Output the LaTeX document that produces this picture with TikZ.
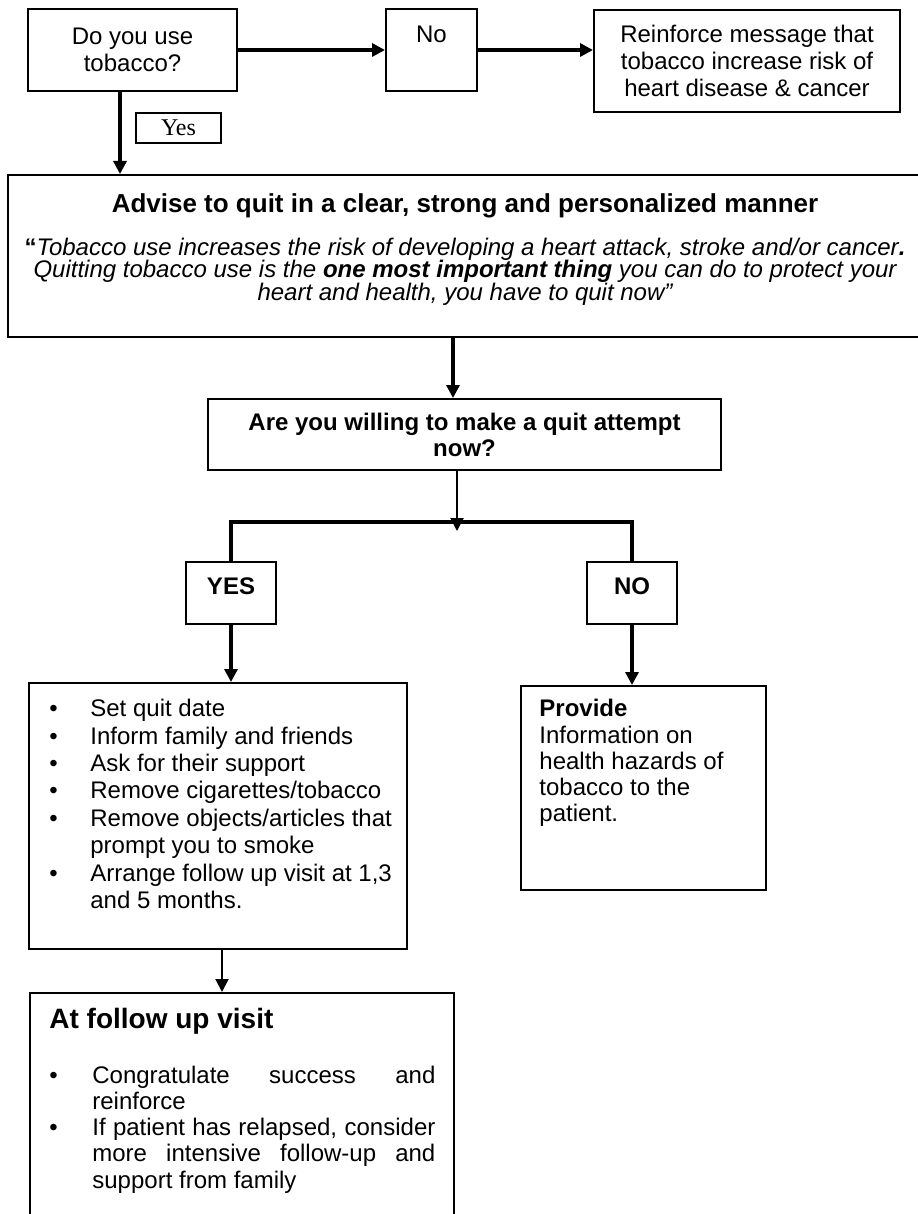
\documentclass[tikz,border=0pt]{standalone}
\usepackage{fontspec}
\setmainfont{Liberation Sans}
\newfontfamily\timesf{Liberation Serif}
\usetikzlibrary{arrows.meta,calc}
\newcommand\tightls{\lineskiplimit=-20pt\relax}
\begin{document}
\begin{tikzpicture}[x=0.5pt,y=-0.5pt,
  box/.style={draw, line width=1pt, rectangle, inner sep=0pt},
  arr/.style={-{Triangle[length=6.5pt,width=6.5pt]}},
  heavy/.style={line width=2pt},
  medium/.style={line width=1.6pt},
  light/.style={line width=1pt},
  ftwelve/.style={font=\fontsize{12}{13.5}\selectfont},
  txt/.style={inner sep=0pt}
]
\useasboundingbox (0,0) rectangle (917,1214);

% top row
\node[box, minimum width=104.5pt, minimum height=41pt, align=center, ftwelve] (b1) at (132.5,50) {Do you use\\tobacco?};
\node[box, minimum width=45.5pt, minimum height=41pt] (nobox) at (431.5,50) {};
\node[txt, ftwelve, anchor=base] (notxt) at (431.5,43) {No};
\node[box, minimum width=153pt, minimum height=51pt, align=center, ftwelve] (rf) at (747,61) {Reinforce message that\\tobacco increase risk of\\heart disease \& cancer};
\node[box, line width=0.8pt, minimum width=42.5pt, minimum height=15pt, font=\timesf\fontsize{12}{14}\selectfont] (yes) at (178.5,128) {Yes};

% advise box
\node[box, minimum width=458pt, minimum height=81pt] (adv) at (466,256) {};
\node[txt, font=\bfseries\fontsize{13}{15}\selectfont, anchor=base] (advt) at (465,213) {Advise to quit in a clear, strong and personalized manner};
\node[txt, font=\itshape\fontsize{12}{11.25}\selectfont\tightls, align=center, anchor=north] (advq) at (465,237.5)
  {{\upshape\bfseries “}Tobacco use increases the risk of developing a heart attack, stroke and/or cancer{\bfseries .}\\
   Quitting tobacco use is the \textbf{one most important thing} you can do to protect your\\
   heart and health, you have to quit now”};

% decision
\node[box, minimum width=256.5pt, minimum height=35.5pt, align=center, font=\bfseries\fontsize{12}{13}\selectfont] (dec) at (464.5,434.5) {Are you willing to make a quit attempt\\now?};

\node[box, minimum width=45pt, minimum height=31pt] (yesb) at (231,593) {};
\node[txt, font=\bfseries\fontsize{12}{14}\selectfont, anchor=base] (yest) at (231,594.5) {YES};
\node[box, minimum width=45pt, minimum height=31pt] (nob) at (632,593) {};
\node[txt, font=\bfseries\fontsize{12}{14}\selectfont, anchor=base] (not) at (632,594.5) {NO};

% list box
\node[box, minimum width=189pt, minimum height=133pt] (lst) at (218,816) {};
\node[txt, anchor=north west, font=\fontsize{12}{13.7}\selectfont] (lsttxt) at (49,697.2)
 {\begin{tabular}{@{}p{20.5pt}@{}l@{}}
 •&Set quit date\\
 •&Inform family and friends\\
 •&Ask for their support\\
 •&Remove cigarettes/tobacco\\
 •&Remove objects/articles that\\
  &prompt you to smoke\\
 •&Arrange follow up visit at 1,3\\
  &and 5 months.
 \end{tabular}};

% provide box
\node[box, minimum width=122.5pt, minimum height=102pt] (prov) at (643.5,788) {};
\node[txt, anchor=north west, align=left, font=\fontsize{12}{13.1}\selectfont] (provt) at (539,699)
 {\textbf{Provide}\\Information on\\health hazards of\\tobacco to the\\patient.};

% follow-up box
\node[box, minimum width=212pt, minimum height=123.5pt] (fol) at (242,1116.5) {};
\node[txt, anchor=base west, font=\bfseries\fontsize{14}{16}\selectfont] (folt) at (49,1028) {At follow up visit};
\node[txt, anchor=north west, font=\fontsize{12}{13.1}\selectfont] (foltxt) at (49,1064.5)
 {\begin{tabular}{@{}p{21.5pt}@{}l@{}}
 •&\makebox[171.5pt][s]{Congratulate success and}\\
  &reinforce\\
 •&\makebox[171.5pt][s]{If patient has relapsed, consider}\\
  &\makebox[171.5pt][s]{more intensive follow-up and}\\
  &support from family
 \end{tabular}};

% connectors
\coordinate (yx) at (120,0);
\coordinate (ax) at (453,0);
\coordinate (jn) at (457,531);
\coordinate (jl) at (231,522);
\coordinate (fx) at (222,0);
\draw[heavy, arr] (b1.east) -- (nobox.west);
\draw[heavy, arr] (nobox.east) -- (nobox.east -| rf.west);
\draw[heavy, arr] (b1.south -| yx) -- (adv.north -| yx);
\draw[medium, arr] (adv.south -| ax) -- (dec.north -| ax);
\draw[light, arr] (dec.south -| jn) -- (jn);
\draw[line width=1.75pt] (yesb.north) -- (yesb.north |- jl) -- (nob.north |- jl) -- (nob.north);
\draw[medium, arr] (yesb.south) -- (yesb.south |- lst.north);
\draw[medium, arr] (nob.south) -- (nob.south |- prov.north);
\draw[light, arr] (lst.south -| fx) -- (fol.north -| fx);
\end{tikzpicture}
\end{document}
